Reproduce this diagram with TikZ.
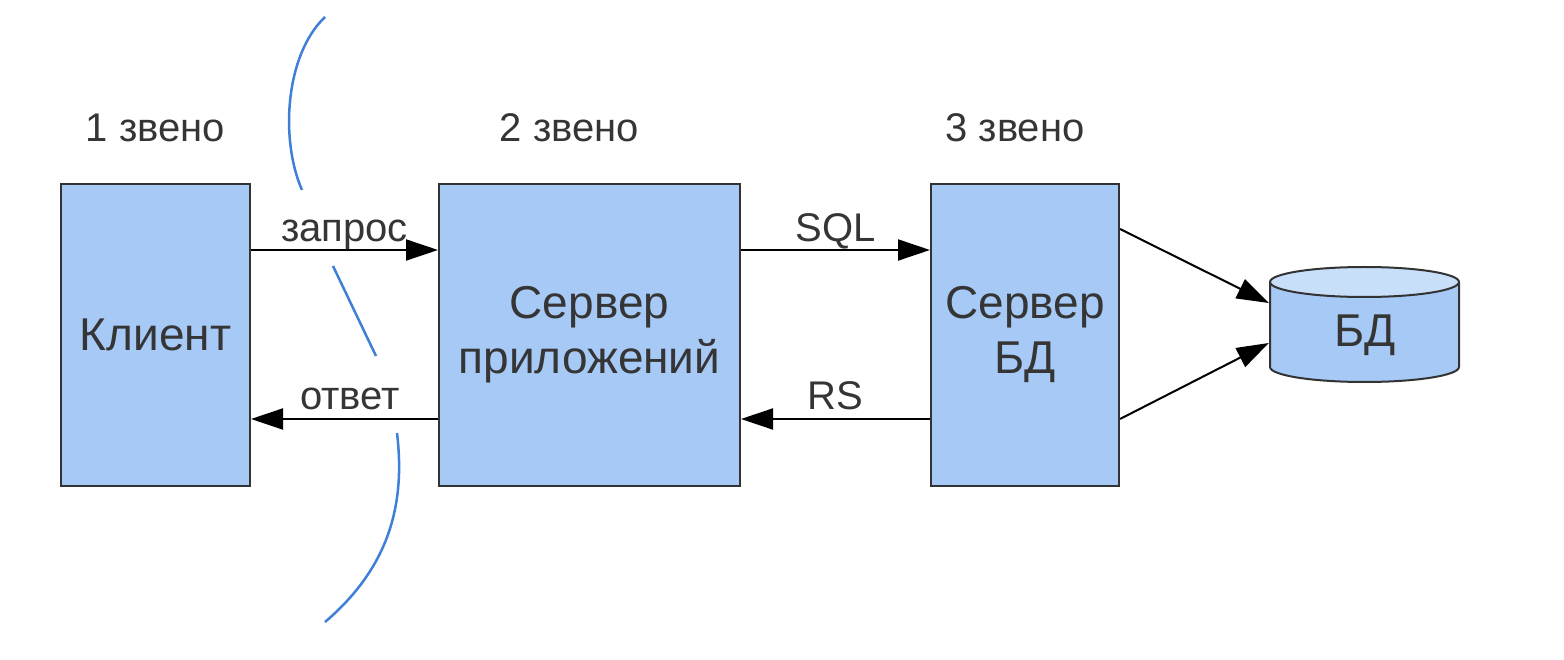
\documentclass[tikz,border=0pt]{standalone}
\usepackage{fontspec}
\setmainfont{Liberation Sans}
\usetikzlibrary{arrows.meta,positioning,calc}
\definecolor{boxfill}{HTML}{A6C9F6}
\definecolor{topfill}{HTML}{C8DFFA}
\definecolor{edge}{HTML}{333333}
\definecolor{txt}{HTML}{353535}
\definecolor{curve}{HTML}{3F7FD8}
\begin{document}
\begin{tikzpicture}[x=1pt,y=-1pt,
  tier/.style={draw=edge,line width=2pt,fill=boxfill,inner sep=0pt,align=center,
    text=txt,font=\fontsize{46}{55}\selectfont},
  tierlabel/.style={text=txt,font=\fontsize{40}{48}\selectfont,anchor=base,inner sep=0pt},
  msg/.style={text=txt,font=\fontsize{40}{48}\selectfont,anchor=base,inner sep=0pt},
  arr/.style={line width=2pt,draw=black,-{Triangle[length=32pt,width=21pt]}},
  sep/.style={draw=curve,line width=2.5pt}]
\useasboundingbox (0,0) rectangle (1564,660);

% boxes
\node[tier,minimum width=189pt,minimum height=302pt] (cl) at (155.5,335) {Клиент};
\node[tier,minimum width=301pt,minimum height=302pt] (app) at (589.5,335) {Сервер\\приложений};
\node[tier,minimum width=188pt,minimum height=302pt] (dbs) at (1025,335) {Сервер\\БД};

% tier labels
\node[tierlabel] (t1) at ([yshift=41pt]cl.north) {1 звено};
\node[tierlabel] (t2) at ([xshift=-20pt,yshift=41pt]app.north) {2 звено};
\node[tierlabel] (t3) at ([xshift=-10pt,yshift=41pt]dbs.north) {3 звено};

% database cylinder
\fill[boxfill] (1270,282) rectangle (1459,367);
\fill[boxfill] (1364.5,367) ellipse [x radius=94.5pt, y radius=15pt];
\draw[edge,line width=2pt] (1270,282) -- (1270,367) arc[start angle=180,end angle=360,x radius=94.5pt,y radius=15pt] -- (1459,282);
\draw[edge,line width=2pt,fill=topfill] (1364.5,282) ellipse [x radius=94.5pt, y radius=15pt];
\node[inner sep=0pt,minimum width=189pt,minimum height=85pt] (bd) at (1364.5,324.5) {};
\node[text=txt,font=\fontsize{46}{55}\selectfont,anchor=base,inner sep=0pt] (bdt) at (1365,347) {БД};

% arrows
\draw[arr] ([yshift=-67pt]cl.north east) -- node[msg,pos=0.5,yshift=8pt] (q) {запрос} ([yshift=-67pt]app.north west);
\draw[arr] ([yshift=68pt]app.south west) -- node[msg,pos=0.47,yshift=10pt] (r) {ответ} ([yshift=68pt]cl.south east);
\draw[arr] ([yshift=-67pt]app.north east) -- node[msg,pos=0.5,yshift=8pt] (s) {SQL} ([yshift=-67pt]dbs.north west);
\draw[arr] ([yshift=68pt]dbs.south west) -- node[msg,pos=0.5,yshift=10pt] (rs) {RS} ([yshift=68pt]app.south east);
\draw[arr] ([yshift=-46pt]dbs.north east) -- ([xshift=-1pt,yshift=21.5pt]bd.west);
\draw[arr] ([yshift=68pt]dbs.south east) -- ([xshift=-1pt,yshift=-18.5pt]bd.west);

% separator curve
\draw[sep] (325,17) .. controls (285,55) and (280,140) .. (302,190);
\draw[sep] (333,266) -- (376,356);
\draw[sep] (397,433) .. controls (405,500) and (392,565) .. (325,622);
\end{tikzpicture}
\end{document}
